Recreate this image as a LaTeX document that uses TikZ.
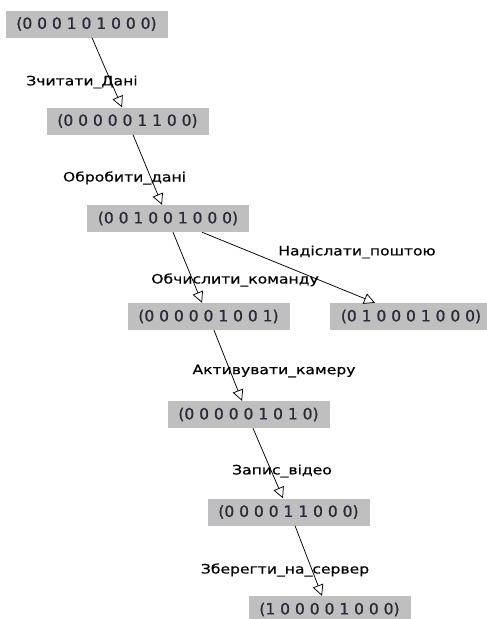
\documentclass[tikz,border=0pt]{standalone}
\usepackage{fontspec}
\setmainfont{DejaVu Sans}
\newfontfamily\digfont[FakeBold=0.9]{DejaVu Sans}
\newfontfamily\lblfont[FakeBold=0.4]{DejaVu Sans}
\usetikzlibrary{arrows.meta,calc}
\definecolor{boxgray}{HTML}{BFBFBF}
\definecolor{digit}{HTML}{2A2A3A}
\tikzset{
  state/.style={fill=boxgray, minimum width=162pt, minimum height=27pt, inner sep=0pt,
    font=\digfont\fontsize{15.5}{17}\selectfont, text=digit},
  lbl/.style={inner sep=0pt, font=\lblfont\fontsize{13}{15}\selectfont, text=black},
  trans/.style={draw=black, line width=0.75pt, -{Triangle[open,length=11pt,width=11pt,line width=0.75pt]}}
}
\newcommand{\ls}[1]{\scalebox{1.2}[1]{#1}}
\begin{document}
\begin{tikzpicture}[x=1pt,y=-1pt]
\useasboundingbox (0,0) rectangle (487,619);
\begin{scope}
\clip (0,0) rectangle (487,619);
\node[state] (b1) at (86.5,24) {(0 0 0 1 0 1 0 0 0)};
\node[state] (b2) at (127.5,121) {(0 0 0 0 0 1 1 0 0)};
\node[state] (b3) at (168,218.5) {(0 0 1 0 0 1 0 0 0)};
\node[state] (b4) at (208.5,316.5) {(0 0 0 0 0 1 0 0 1)};
\node[state] (b5) at (411,316.5) {(0 1 0 0 0 1 0 0 0)};
\node[state] (b6) at (248.5,414.5) {(0 0 0 0 0 1 0 1 0)};
\node[state] (b7) at (288.5,512) {(0 0 0 0 1 1 0 0 0)};
\node[state] (b8) at (329.5,609.5) {(1 0 0 0 0 1 0 0 0)};

\node[lbl] (l1) at (82,82) {\ls{Зчитати\_Дані}};
\node[lbl] (l2) at (124.5,178) {\ls{Обробити\_дані}};
\node[lbl] (l3) at (357,252) {\ls{Надіслати\_поштою}};
\node[lbl] (l4) at (235,280) {\ls{Обчислити\_команду}};
\node[lbl] (l5) at (274,371) {\ls{Активувати\_камеру}};
\node[lbl] (l6) at (282,471) {\ls{Запис\_відео}};
\node[lbl] (l7) at (285,570) {\ls{Зберегти\_на\_сервер}};

\draw[trans] ([xshift=5.5pt]b1.south) -- ([xshift=-5.5pt]b2.north);
\draw[trans] ([xshift=5.5pt]b2.south) -- ([xshift=-6pt]b3.north);
\draw[trans] ([xshift=5pt]b3.south) -- ([xshift=-6.5pt]b4.north);
\draw[trans] ([xshift=34pt]b3.south) -- ([xshift=-36pt]b5.north);
\draw[trans] ([xshift=5.5pt]b4.south) -- ([xshift=-6.5pt]b6.north);
\draw[trans] ([xshift=4.5pt]b6.south) -- ([xshift=-5.5pt]b7.north);
\draw[trans] ([xshift=6.5pt]b7.south) -- ([xshift=-7.5pt]b8.north);
\end{scope}
\end{tikzpicture}
\end{document}
